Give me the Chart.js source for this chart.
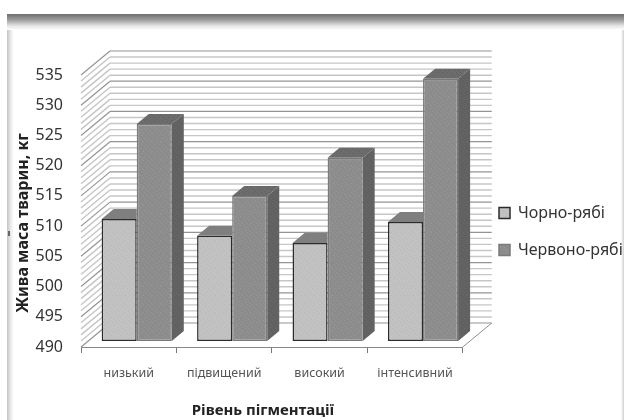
<!DOCTYPE html>
<html>
<head>
<meta charset="utf-8">
<script src="https://cdn.jsdelivr.net/npm/chart.js@4"></script>
<style>
  html, body { margin: 0; padding: 0; background: #fff; overflow: hidden; }
  #wrap { position: relative; width: 624px; height: 420px; }
  #frame {
    position: absolute; left: 7px; top: 14px; right: 0; bottom: 0;
    background:
      linear-gradient(#6e6e6e, #9a9a9a 35%, #e6e6e6 75%, #fff) top left / 100% 16px no-repeat,
      linear-gradient(90deg, #c4c4c4, #eee 60%, #fff) top left / 7px 100% no-repeat,
      linear-gradient(270deg, #d0d0d0, #fff) top right / 3px 100% no-repeat;
  }
  #nick { position: absolute; left: 8px; top: 231px; width: 2px; height: 5px; background: #666; }
  #chart { position: absolute; left: 0; top: 0; filter: blur(0.4px); }
</style>
</head>
<body>
<div id="wrap">
  <div id="frame"></div>
  <div id="nick"></div>
  <canvas id="chart" width="624" height="420"></canvas>
</div>
<script>
const categories = ["низький", "підвищений", "високий", "інтенсивний"];
const blackPied = [510.2, 507.4, 506.2, 509.7];
const redPied = [525.9, 514, 520.3, 533.4];
const seriesNames = ["Чорно-рябі", "Червоно-рябі"];
const axisMin = 490;
const axisMax = 535;

const FONT = '"Noto Sans", "Open Sans", sans-serif';
// depth of the fake 3d box
const WALL_DX = 29, WALL_DY = -24;
const BAR_SHIFT_X = 8, BAR_SHIFT_Y = -6;
const BAR_DX = 12, BAR_DY = -10;

// small grain tile, the scan in the original is grainy
function stipple(base, dot) {
  const c = document.createElement("canvas");
  c.width = 9;
  c.height = 9;
  const g = c.getContext("2d");
  g.fillStyle = base;
  g.fillRect(0, 0, 9, 9);
  g.fillStyle = dot;
  [[1, 0], [6, 1], [3, 2], [8, 3], [0, 4], [5, 4], [2, 6], [7, 6], [4, 8]].forEach((p) => g.fillRect(p[0], p[1], 1, 1));
  return g.createPattern(c, "repeat");
}

const blackFill = stipple("#c2c2c2", "#b8b8b8");
const redFill = stipple("#8c8c8c", "#989898");
const sideFill = stipple("#616161", "#696969");
const topFill = stipple("#6c6c6c", "#606060");

function line(ctx, x1, y1, x2, y2) {
  ctx.beginPath();
  ctx.moveTo(x1, y1);
  ctx.lineTo(x2, y2);
  ctx.stroke();
}

function poly(ctx, pts, fill) {
  ctx.beginPath();
  pts.forEach((p, i) => (i ? ctx.lineTo(p[0], p[1]) : ctx.moveTo(p[0], p[1])));
  ctx.closePath();
  ctx.fillStyle = fill;
  ctx.fill();
}

function shiftTitle(scale, dx, dy) {
  const draw = scale.drawTitle;
  scale.drawTitle = function () {
    this.ctx.save();
    this.ctx.translate(dx, dy);
    draw.call(this);
    this.ctx.restore();
  };
}

const box3d = {
  id: "box3d",
  afterLayout(chart) {
    // legend sits higher and closer than the default slot
    const lg = chart.legend;
    const w = lg.right - lg.left;
    lg.left = 478;
    lg.right = 478 + w;
    lg.top -= 16;
    lg.bottom -= 16;
    shiftTitle(chart.scales.x, -9, 4);
    shiftTitle(chart.scales.y, 10, 12);
  },
  beforeDatasetsDraw(chart) {
    const { ctx, chartArea: a, scales } = chart;
    const y = scales.y;
    ctx.save();
    for (let v = axisMin; v <= axisMax; v++) {
      const py = y.getPixelForValue(v);
      const major = v % 5 === 0;
      ctx.strokeStyle = major ? "#949494" : "#c6c6c6";
      ctx.lineWidth = major ? 1.2 : 1.4;
      line(ctx, a.left, py, a.left + WALL_DX, py + WALL_DY);
      line(ctx, a.left + WALL_DX, py + WALL_DY, a.right + WALL_DX, py + WALL_DY);
    }
    // floor edge on the right
    ctx.strokeStyle = "#8e8e8e";
    ctx.lineWidth = 1;
    line(ctx, a.right, a.bottom, a.right + WALL_DX, a.bottom + WALL_DY);
    ctx.restore();
  },
  beforeDatasetDraw(chart, args) {
    const { ctx } = chart;
    ctx.save();
    ctx.translate(BAR_SHIFT_X, BAR_SHIFT_Y);
    args.meta.data.forEach((bar) => {
      const { x, y, base, width } = bar.getProps(["x", "y", "base", "width"], true);
      const l = x - width / 2;
      const r = x + width / 2;
      if (args.index === 0) {
        // the neighbour bar hides the right part, it is already drawn
        poly(ctx, [[l, y], [l + BAR_DX, y + BAR_DY], [r, y + BAR_DY], [r, y]], "#7f7f7f");
      } else {
        poly(ctx, [[r, y], [r + BAR_DX, y + BAR_DY], [r + BAR_DX, base + BAR_DY], [r, base]], sideFill);
        poly(ctx, [[l, y], [l + BAR_DX, y + BAR_DY], [r + BAR_DX, y + BAR_DY], [r, y]], topFill);
      }
    });
  },
  afterDatasetDraw(chart) {
    chart.ctx.restore();
  },
};

const chart = new Chart(document.getElementById("chart"), {
  type: "bar",
  data: {
    labels: categories,
    datasets: [
      {
        label: seriesNames[0],
        data: blackPied,
        base: axisMin,
        clip: 4,
        backgroundColor: blackFill,
        borderColor: "#2b2b2b",
        borderWidth: 1.5,
        borderSkipped: false,
      },
      {
        label: seriesNames[1],
        data: redPied,
        base: axisMin,
        clip: 4,
        backgroundColor: redFill,
        borderColor: "#7a7a7a",
        borderWidth: 1.5,
        borderSkipped: false,
      },
    ],
  },
  options: {
    responsive: false,
    animation: false,
    events: [],
    layout: { padding: { top: 75, right: 7, left: 0, bottom: 0 } },
    datasets: { bar: { barPercentage: 1, categoryPercentage: 0.735 } },
    plugins: {
      tooltip: { enabled: false },
      title: { display: false },
      legend: {
        position: "right",
        labels: {
          boxWidth: 11,
          boxHeight: 11,
          padding: 21,
          color: "#333",
          font: { family: FONT, size: 16 },
        },
      },
    },
    scales: {
      x: {
        grid: { drawOnChartArea: false, drawTicks: true, tickLength: 6, color: "#777" },
        border: { color: "#888" },
        ticks: { color: "#555", padding: 13, maxRotation: 0, autoSkip: false, font: { family: FONT, size: 12.5 } },
        title: {
          display: true,
          text: "Рівень пігментації",
          color: "#222",
          font: { family: FONT, size: 15, weight: "bold" },
        },
        afterFit(s) { s.height = 73; },
      },
      y: {
        min: axisMin,
        max: axisMax,
        grid: { display: false },
        border: { display: false },
        ticks: { stepSize: 5, color: "#333", padding: 10, font: { family: FONT, size: 16 } },
        title: {
          display: true,
          text: "Жива маса тварин, кг",
          color: "#222",
          font: { family: FONT, size: 16, weight: "bold" },
        },
        afterFit(s) { s.width = 81; },
      },
    },
  },
  plugins: [box3d],
});
</script>
</body>
</html>
